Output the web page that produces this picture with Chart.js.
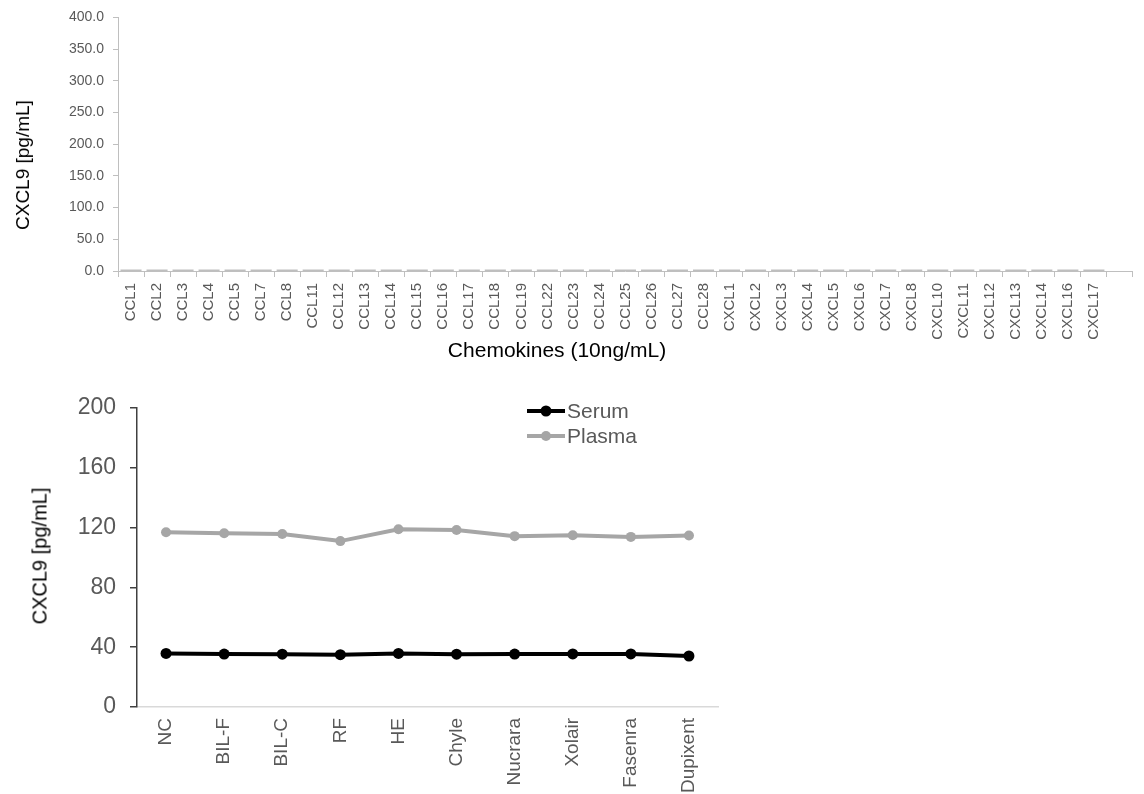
<!DOCTYPE html>
<html lang="en">
<head>
    <meta charset="UTF-8">
    <title>CXCL9 Chemokines</title>
    <script src="https://cdn.jsdelivr.net/npm/chart.js@4.4.8/dist/chart.umd.min.js"></script>
    <style>
        body { margin: 0; background: #fff; font-family: 'Liberation Sans', Arial, sans-serif; }
        .box { position: absolute; }
        .title { position: absolute; color: #000; font-weight: 400; white-space: nowrap; }
        .rot { transform: translate(-50%, -50%) rotate(-90deg); }
        .hor { transform: translate(-50%, -50%); }
    </style>
</head>
<body>
    <div class="box" style="left:0;top:0;width:1144px;height:364px"><canvas id="chemoChart"></canvas></div>
    <div class="box" style="left:0;top:380px;width:760px;height:414px"><canvas id="sampleChart"></canvas></div>
    <div class="title rot" style="left:23px;top:165px;font-size:19px">CXCL9 [pg/mL]</div>
    <div class="title hor" style="left:557px;top:350px;font-size:21px">Chemokines (10ng/mL)</div>
    <div class="title rot" style="left:40px;top:556px;font-size:20px">CXCL9 [pg/mL]</div>
    <script>
        const chemokines = ['CCL1', 'CCL2', 'CCL3', 'CCL4', 'CCL5', 'CCL7', 'CCL8', 'CCL11', 'CCL12', 'CCL13',
            'CCL14', 'CCL15', 'CCL16', 'CCL17', 'CCL18', 'CCL19', 'CCL22', 'CCL23', 'CCL24', 'CCL25',
            'CCL26', 'CCL27', 'CCL28', 'CXCL1', 'CXCL2', 'CXCL3', 'CXCL4', 'CXCL5', 'CXCL6', 'CXCL7',
            'CXCL8', 'CXCL10', 'CXCL11', 'CXCL12', 'CXCL13', 'CXCL14', 'CXCL16', 'CXCL17', ''];
        const chemoValues = [2, 2, 2, 2, 2, 2, 2, 2, 2, 2, 2, 2, 2, 2, 2, 2, 2, 2, 2, 2,
            2, 2, 2, 2, 2, 2, 2, 2, 2, 2, 2, 2, 2, 2, 2, 2, 2, 2, null];

        const samples = ['NC', 'BIL-F', 'BIL-C', 'RF', 'HE', 'Chyle', 'Nucrara', 'Xolair', 'Fasenra', 'Dupixent'];
        const serum = [35.8, 35.4, 35.3, 35.0, 35.8, 35.3, 35.4, 35.5, 35.5, 34.1];
        const plasma = [116.8, 116.2, 115.7, 110.9, 118.8, 118.3, 114.2, 114.8, 113.7, 114.6];

        const font = 'Liberation Sans, Arial, sans-serif';
        const tickGrey = '#595959';

        new Chart(document.getElementById('chemoChart'), {
            type: 'bar',
            data: {
                labels: chemokines,
                datasets: [{
                    data: chemoValues,
                    backgroundColor: '#7f7f7f',
                    categoryPercentage: 0.9,
                    barPercentage: 0.9
                }]
            },
            options: {
                responsive: true,
                maintainAspectRatio: false,
                animation: false,
                layout: { padding: { top: 16, right: 7, left: 0, bottom: 0 } },
                plugins: { legend: { display: false }, tooltip: { enabled: false } },
                scales: {
                    x: {
                        grid: { drawOnChartArea: false, tickLength: 6, color: '#bfbfbf', offset: true },
                        border: { color: '#bfbfbf' },
                        ticks: { minRotation: 90, maxRotation: 90, autoSkip: false, padding: 6,
                            color: tickGrey, font: { family: font, size: 15 } },
                        afterFit: s => { s.height = 93; }
                    },
                    y: {
                        min: 0, max: 400,
                        grid: { drawOnChartArea: false, tickLength: 5, color: '#bfbfbf' },
                        border: { color: '#bfbfbf' },
                        ticks: { stepSize: 50, padding: 9, color: tickGrey, font: { family: font, size: 14 },
                            callback: v => v.toFixed(1) },
                        afterFit: s => { s.width = 118; }
                    }
                }
            }
        });

        // legend sits inside the plot, to the right of centre
        const legendAt = {
            id: 'legendAt',
            afterDraw(chart) {
                const ctx = chart.ctx;
                ctx.save();
                chart.data.datasets.forEach((ds, i) => {
                    const y = 31 + i * 25;
                    ctx.strokeStyle = ds.borderColor;
                    ctx.lineWidth = 4;
                    ctx.beginPath();
                    ctx.moveTo(527, y);
                    ctx.lineTo(565, y);
                    ctx.stroke();
                    ctx.fillStyle = ds.pointBackgroundColor;
                    ctx.beginPath();
                    ctx.arc(546, y, ds.pointRadius, 0, Math.PI * 2);
                    ctx.fill();
                    ctx.fillStyle = tickGrey;
                    ctx.font = '21px ' + font;
                    ctx.textBaseline = 'middle';
                    ctx.fillText(ds.label, 567, y + 1);
                });
                ctx.restore();
            }
        };

        new Chart(document.getElementById('sampleChart'), {
            type: 'line',
            data: {
                labels: samples,
                datasets: [{
                    label: 'Serum',
                    data: serum,
                    borderColor: '#000000',
                    pointBackgroundColor: '#000000',
                    pointBorderColor: '#000000',
                    borderWidth: 4,
                    pointRadius: 5.5,
                    pointBorderWidth: 0
                }, {
                    label: 'Plasma',
                    data: plasma,
                    borderColor: '#a6a6a6',
                    pointBackgroundColor: '#a6a6a6',
                    pointBorderColor: '#a6a6a6',
                    borderWidth: 4,
                    pointRadius: 5,
                    pointBorderWidth: 0
                }]
            },
            options: {
                responsive: true,
                maintainAspectRatio: false,
                animation: false,
                layout: { padding: { top: 24, right: 42, left: 0, bottom: 0 } },
                plugins: { legend: { display: false }, tooltip: { enabled: false } },
                scales: {
                    x: {
                        offset: true,
                        grid: { display: false, drawTicks: false },
                        border: { color: '#d9d9d9', width: 1.5 },
                        ticks: { minRotation: 90, maxRotation: 90, autoSkip: false, padding: 11,
                            color: tickGrey, font: { family: font, size: 19 } },
                        afterFit: s => { s.height = 87; }
                    },
                    y: {
                        min: 0, max: 200,
                        grid: { drawOnChartArea: false, tickLength: 7, color: '#404040', lineWidth: 1.5 },
                        border: { color: '#404040', width: 1.5 },
                        ticks: { stepSize: 40, padding: 14, color: tickGrey, font: { family: font, size: 23 } },
                        afterFit: s => { s.width = 137; }
                    }
                }
            },
            plugins: [legendAt]
        });
    </script>
</body>
</html>
